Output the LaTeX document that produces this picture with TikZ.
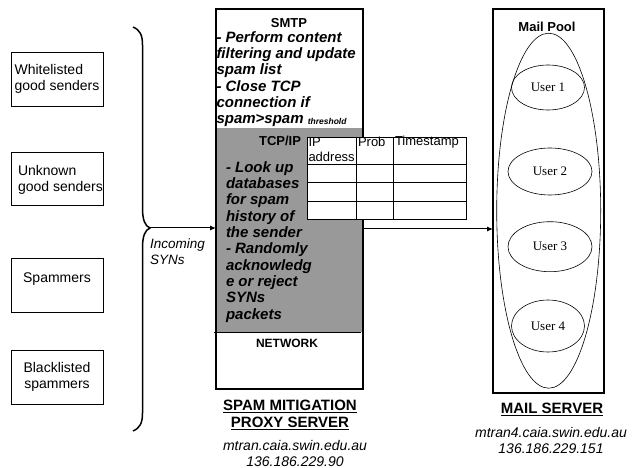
\documentclass[tikz,border=0pt]{standalone}
\usepackage{fontspec}
\setmainfont{Liberation Sans}
\newfontfamily\timesfont{Liberation Serif}
\usetikzlibrary{arrows.meta,shapes.geometric}
\begin{document}
\begin{tikzpicture}[x=1bp,y=-1bp,
 every node/.style={inner sep=0pt, outer sep=0pt},
 senderbox/.style={draw, line width=0.8bp, minimum width=92bp, minimum height=54bp, font=\fontsize{14bp}{16bp}\selectfont},
 thickbox/.style={draw, line width=2.5bp},
 bi/.style={font=\fontsize{15bp}{16.3bp}\selectfont\bfseries\itshape, align=left, anchor=north west},
 ttl/.style={font=\fontsize{13bp}{15bp}\selectfont\bfseries},
 captext/.style={font=\fontsize{15bp}{17bp}\selectfont\bfseries, align=center},
 host/.style={font=\fontsize{14bp}{16bp}\selectfont\itshape, align=center},
 tbl/.style={font=\fontsize{13bp}{14bp}\selectfont, anchor=west},
 user/.style={draw, ellipse, line width=0.6bp, font=\timesfont\fontsize{13bp}{15bp}\selectfont},
 arr/.style={-{Latex[length=6bp,width=5bp]}, line width=1bp}
]
\useasboundingbox (0,0) rectangle (632,468);

% senders
\node[senderbox, align=left] (white) at (57,79) {Whitelisted\\good senders};
\node[senderbox, minimum height=53bp] (unknown) at (57,178.5) {};
\node[font=\fontsize{14bp}{16bp}\selectfont, align=left, anchor=west] (unknowntxt) at ([xshift=7bp,yshift=-1.5bp]unknown.west) {Unknown\\good senders};
\node[senderbox, text height=10bp, text depth=14bp] (spam) at (57,285) {Spammers};
\node[senderbox, align=center] (black) at (57,377) {Blacklisted\\spammers};

% brace
\draw[line width=1.5bp] (133,27) .. controls (140,30) and (142.5,35) .. (142.5,45) -- (142.5,208)
  .. controls (142.5,220) and (145,226) .. (150,228)
  .. controls (145,230) and (142.5,236) .. (142.5,248) -- (142.5,413)
  .. controls (142.5,423) and (140,428) .. (133,431);
\coordinate (braceTip) at (150,228);
\node[font=\fontsize{13.5bp}{16.5bp}\selectfont\itshape, align=left, anchor=west] (syn) at (150,251.5) {Incoming\\SYNs};

% proxy server
\node[fill=black!40, minimum width=146bp, minimum height=204bp] (tcpband) at (289.5,230) {};
\node[thickbox, minimum width=147bp, minimum height=380bp] (proxy) at (289.5,199) {};
\draw[line width=0.8bp] ([xshift=-3bp]tcpband.south west) -- ([xshift=-2bp]tcpband.south east);

\node[ttl] (smtp) at (289,23) {SMTP};
\node[bi] (smtptxt) at (216.5,31.5) {- Perform content\\filtering and update\\spam list\\- Close TCP\\connection if\\spam>spam \raisebox{-1bp}{\fontsize{8.5bp}{9bp}\selectfont threshold}};
\node[ttl, anchor=east] (tcpip) at (301,141) {TCP/IP};
\node[bi] (tcptxt) at (226,161.5) {- Look up\\databases\\for spam\\history of\\the sender\\- Randomly\\acknowledg\\e or reject\\SYNs\\packets};
\node[ttl, font=\fontsize{12bp}{14bp}\selectfont\bfseries] (network) at (287,343) {NETWORK};

% table
\node[draw, fill=white, line width=0.8bp, minimum width=159bp, minimum height=82bp, anchor=north west] (dbtab) at (307,137) {};
\foreach \cx in {356,393} \draw[line width=0.8bp] (\cx,137) -- (\cx,219);
\foreach \ry in {164,182,201} \draw[line width=0.8bp] (307,\ry) -- (466,\ry);
\node[tbl] (tip) at (308.5,142) {IP};
\node[tbl] (taddr) at (308.5,157) {address};
\node[tbl] (tprob) at (358,142) {Prob};
\node[tbl] (tts) at (395,142) {Timestamp};

% mail server
\node[thickbox, minimum width=111bp, minimum height=384bp] (mailsrv) at (548.5,201) {};
\node[ttl] (pooltitle) at (547,27) {Mail Pool};
\node[draw, ellipse, line width=0.6bp, minimum width=104bp, minimum height=355bp] (pool) at (548.7,210.7) {};
\node[user, minimum width=73bp, minimum height=45bp] (u1) at (548,87.5) {User 1};
\node[user, minimum width=84bp, minimum height=47bp] (u2) at (550,171.5) {User 2};
\node[user, minimum width=84bp, minimum height=50bp] (u3) at (550,246.7) {User 3};
\node[user, minimum width=73bp, minimum height=52bp] (u4) at (548,326) {User 4};

% arrows
\draw[arr] (braceTip) -- (braceTip -| proxy.west);
\coordinate (outA) at (363,229);
\draw[arr] (outA) -- (outA -| mailsrv.west);

% captions
\node[captext] (proxycap) at (290,414.5) {\underline{SPAM MITIGATION}\\\underline{PROXY SERVER}};
\node[host] (proxyhost) at (295,453.5) {mtran.caia.swin.edu.au\\136.186.229.90};
\node[captext] (mailcap) at (552,409) {\underline{MAIL SERVER}};
\node[host] (mailhost) at (551,440.5) {mtran4.caia.swin.edu.au\\136.186.229.151};
\end{tikzpicture}
\end{document}
